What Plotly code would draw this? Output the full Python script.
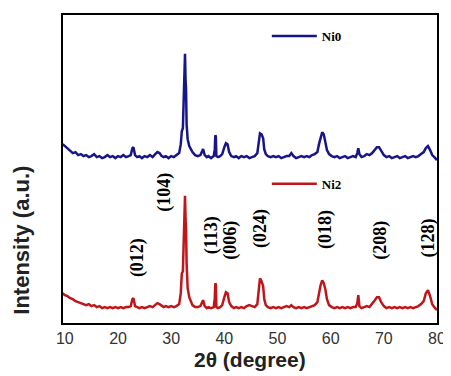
import plotly.graph_objects as go

# 2-theta grid (degree)
two_theta = [
    9.6, 10.0, 10.5, 11.0, 11.5, 12.0, 12.5, 13.0, 13.5, 14.0,
    14.5, 15.0, 15.5, 16.0, 16.5, 17.0, 17.5, 18.0, 18.5, 19.0,
    19.5, 20.0, 20.5, 21.0, 21.5, 22.0, 22.4, 22.7, 22.9, 23.2,
    23.6, 24.0, 24.5, 25.0, 25.5, 26.0, 26.5, 27.0, 27.4, 27.8,
    28.2, 28.6, 29.0, 29.5, 30.0, 30.5, 31.0, 31.5, 31.8, 32.0,
    32.2, 32.4, 32.5, 32.6, 32.7, 32.8, 32.9, 33.1, 33.4, 33.7,
    34.0, 34.5, 35.0, 35.5, 35.8, 36.0, 36.3, 36.7, 37.0, 37.5,
    38.0, 38.2, 38.3, 38.4, 38.5, 38.8, 39.2, 39.6, 40.0, 40.3,
    40.6, 40.9, 41.3, 41.8, 42.2, 42.7, 43.2, 43.7, 44.2, 44.7,
    45.2, 45.7, 46.2, 46.5, 46.7, 47.0, 47.3, 47.5, 47.8, 48.2,
    48.7, 49.2, 49.7, 50.2, 50.7, 51.2, 51.7, 52.2, 52.6, 53.0,
    53.5, 54.0, 54.5, 55.0, 55.5, 56.0, 56.5, 57.0, 57.5, 57.8,
    58.1, 58.4, 58.7, 59.0, 59.3, 59.7, 60.2, 60.7, 61.2, 61.7,
    62.2, 62.7, 63.2, 63.7, 64.2, 64.7, 65.0, 65.2, 65.4, 65.8,
    66.3, 66.8, 67.3, 67.8, 68.3, 68.7, 69.1, 69.5, 70.0, 70.5,
    71.0, 71.5, 72.0, 72.5, 73.0, 73.5, 74.0, 74.5, 75.0, 75.5,
    76.0, 76.5, 77.0, 77.5, 77.9, 78.3, 78.7, 79.1, 79.5, 80.0,
]

# Intensity (a.u.), Ni0 pattern (offset upward)
ni0 = [
    180, 178, 176, 174, 171, 172, 169, 170, 168, 169,
    167, 168, 170, 167, 168, 166, 167, 169, 167, 168,
    166, 168, 167, 169, 167, 168, 169, 176, 177, 169,
    167, 168, 166, 168, 167, 169, 167, 170, 172, 171,
    168, 167, 168, 166, 168, 167, 169, 171, 180, 193,
    196, 245, 245, 271, 245, 235, 200, 185, 178, 174,
    172, 169, 168, 169, 174, 175, 169, 167, 168, 166,
    168, 175, 189, 188, 168, 167, 168, 170, 177, 181,
    180, 172, 168, 167, 168, 166, 168, 167, 168, 166,
    167, 168, 171, 185, 191, 190, 186, 175, 170, 168,
    167, 168, 167, 168, 166, 167, 168, 168, 171, 168,
    166, 167, 168, 167, 168, 167, 169, 170, 172, 180,
    186, 192, 190, 182, 174, 170, 168, 167, 168, 166,
    167, 168, 166, 167, 168, 167, 171, 176, 170, 167,
    168, 170, 169, 171, 174, 177, 177, 173, 169, 167,
    168, 166, 167, 168, 166, 167, 168, 166, 167, 168,
    167, 168, 170, 172, 176, 178, 174, 169, 167, 164,
]

# Intensity (a.u.), Ni2 pattern
ni2 = [
    30, 28, 27, 25, 24, 22, 21, 20, 19, 18,
    19, 17, 18, 16, 17, 15, 16, 15, 16, 15,
    16, 15, 16, 15, 16, 16, 17, 24, 25, 17,
    16, 15, 16, 15, 16, 17, 16, 18, 20, 19,
    17, 16, 17, 16, 17, 16, 17, 19, 30, 50,
    52, 100, 105, 128, 105, 95, 60, 35, 26, 21,
    18, 16, 16, 17, 22, 23, 17, 15, 16, 15,
    16, 25, 40, 39, 16, 15, 16, 18, 26, 31,
    30, 21, 17, 15, 16, 15, 16, 15, 17, 18,
    17, 16, 19, 36, 45, 42, 37, 24, 18, 16,
    15, 16, 15, 16, 15, 16, 17, 16, 18, 16,
    15, 16, 15, 16, 15, 16, 17, 18, 21, 32,
    38, 43, 40, 34, 24, 18, 16, 15, 16, 15,
    16, 15, 16, 15, 16, 16, 20, 28, 17, 15,
    16, 17, 16, 19, 23, 26, 26, 21, 17, 15,
    16, 15, 16, 15, 16, 15, 16, 15, 16, 15,
    16, 17, 19, 22, 30, 33, 27, 19, 16, 13,
]

# Miller index labels and their positions
hkl_labels = ["(012)", "(104)", "(113)", "(006)", "(024)", "(018)", "(208)", "(128)"]
hkl_x = [23.7, 28.8, 37.6, 41.1, 46.8, 59.0, 69.3, 78.5]
hkl_y = [66, 132, 88, 83, 95, 94, 83, 85]

x_ticks = [10, 20, 30, 40, 50, 60, 70, 80]

serif = "Liberation Serif, Times New Roman, serif"
sans = "Liberation Sans, Arial, sans-serif"

fig = go.Figure()
fig.add_trace(go.Scatter(x=two_theta, y=ni0, mode="lines", name="<b>Ni0</b>",
                         line=dict(color="#16168a", width=2.5), legend="legend"))
fig.add_trace(go.Scatter(x=two_theta, y=ni2, mode="lines", name="<b>Ni2</b>",
                         line=dict(color="#c0161a", width=2.5), legend="legend2"))

for lab, xx, yy in zip(hkl_labels, hkl_x, hkl_y):
    fig.add_annotation(x=xx, y=yy, text="<b>" + lab + "</b>", showarrow=False,
                       textangle=-90, font=dict(family=serif, size=18, color="black"))

fig.add_annotation(xref="paper", yref="paper", x=-0.11, y=0.27,
                   xanchor="center", yanchor="middle",
                   text="<b>Intensity (a.u.)</b>", showarrow=False, textangle=-90,
                   font=dict(family=sans, size=22, color="#222"))

fig.add_annotation(xref="paper", yref="paper", x=0.5, y=-0.117,
                   xanchor="center", yanchor="middle",
                   text="<b>2θ (degree)</b>", showarrow=False,
                   font=dict(family=sans, size=21, color="#222"))

leg_common = dict(xanchor="left", yanchor="middle", bgcolor="rgba(0,0,0,0)",
                  font=dict(family=serif, size=13, color="black"), itemwidth=45)

# page body adds an 8px offset, so the figure is sized to fit the 451x376 window
fig.update_layout(
    width=443, height=368,
    margin=dict(l=55, r=13, t=5, b=53),
    plot_bgcolor="white", paper_bgcolor="white",
    showlegend=True,
    legend=dict(x=0.545, y=0.932, **leg_common),
    legend2=dict(x=0.545, y=0.452, **leg_common),
    xaxis=dict(range=[9.65, 80], tickvals=x_ticks, ticks="", showgrid=False,
               zeroline=False, showline=True, mirror=True, linecolor="black", linewidth=2,
               tickfont=dict(family=sans, size=16, color="#333")),
    yaxis=dict(range=[0, 310], showticklabels=False, ticks="", showgrid=False,
               zeroline=False, showline=True, mirror=True, linecolor="black", linewidth=2),
)

fig.write_html("out.html")
